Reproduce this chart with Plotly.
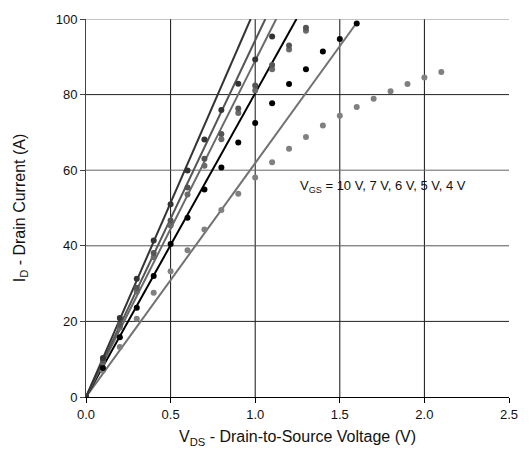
import plotly.graph_objects as go

# ---- data ----
vgs_labels = ["10 V", "7 V", "6 V", "5 V", "4 V"]
series_colors = ["#333333", "#555555", "#6a6a6a", "#000000", "#808080"]
line_colors = ["#333333", "#555555", "#6a6a6a", "#000000", "#727272"]

vds_10V = [0.0, 0.1, 0.2, 0.3, 0.4, 0.5, 0.6, 0.7, 0.8, 0.9, 1.0, 1.1]
id_10V = [0, 10.3, 20.9, 31.3, 41.4, 51.0, 59.9, 68.1, 75.9, 82.9, 89.3, 95.4]

vds_7V = [0.0, 0.1, 0.2, 0.3, 0.4, 0.5, 0.6, 0.7, 0.8, 0.9, 1.0, 1.1, 1.2, 1.3]
id_7V = [0, 9.6, 19.1, 28.9, 38.1, 46.7, 55.4, 63.0, 69.6, 76.3, 82.4, 87.8, 93.0, 97.7]

vds_6V = [0.0, 0.1, 0.2, 0.3, 0.4, 0.5, 0.6, 0.7, 0.8, 0.9, 1.0, 1.1, 1.2, 1.3]
id_6V = [0, 9.2, 18.4, 27.9, 37.0, 45.4, 53.6, 61.2, 68.2, 75.1, 81.1, 86.7, 91.9, 96.9]

vds_5V = [0.0, 0.1, 0.2, 0.3, 0.4, 0.5, 0.6, 0.7, 0.8, 0.9, 1.0, 1.1, 1.2, 1.3, 1.4, 1.5, 1.6]
id_5V = [0, 7.7, 15.8, 23.6, 32.0, 40.5, 47.4, 54.9, 60.7, 67.3, 72.5, 77.7, 82.8, 86.7, 91.4, 94.7, 98.8]

vds_4V = [0.0, 0.1, 0.2, 0.3, 0.4, 0.5, 0.6, 0.7, 0.8, 0.9, 1.0, 1.1, 1.2, 1.3, 1.4,
          1.5, 1.6, 1.7, 1.8, 1.9, 2.0, 2.1]
id_4V = [0, 7.0, 13.2, 20.7, 27.6, 33.3, 38.8, 44.3, 49.5, 53.8, 58.1, 62.1, 65.7, 68.8, 71.8,
         74.4, 76.7, 78.9, 80.9, 82.8, 84.5, 86.0]

# straight fit lines (start, end)
fit_x_10V = [0.0, 0.973]
fit_y_10V = [0, 100]
fit_x_7V = [0.0, 1.06]
fit_y_7V = [0, 100]
fit_x_6V = [0.0, 1.124]
fit_y_6V = [0, 100]
fit_x_5V = [0.0, 1.244]
fit_y_5V = [0, 100]
fit_x_4V = [0.0, 1.6]
fit_y_4V = [0, 99]

x_ticks = [0.0, 0.5, 1.0, 1.5, 2.0, 2.5]
x_tick_text = ["0.0", "0.5", "1.0", "1.5", "2.0", "2.5"]
y_ticks = [0, 20, 40, 60, 80, 100]
x_grid = [0.5, 1.0, 1.5, 2.0]
y_grid = [20, 40, 60, 80, 100]
y_grid_colors = ["#222222", "#555555", "#666666", "#222222", "#8a8a8a"]

dots = [(vds_4V, id_4V), (vds_5V, id_5V), (vds_6V, id_6V), (vds_7V, id_7V), (vds_10V, id_10V)]
fits = [(fit_x_4V, fit_y_4V), (fit_x_5V, fit_y_5V), (fit_x_6V, fit_y_6V),
        (fit_x_7V, fit_y_7V), (fit_x_10V, fit_y_10V)]
order = [4, 3, 2, 1, 0]

FONT = "Liberation Sans, Arial, Helvetica, sans-serif"

fig = go.Figure()
for k, idx in enumerate(order):
    fx, fy = fits[k]
    fig.add_trace(go.Scatter(x=fx, y=fy, mode="lines",
                             line=dict(color=line_colors[idx], width=2),
                             showlegend=False, hoverinfo="skip"))
for k, idx in enumerate(order):
    dx, dy = dots[k]
    fig.add_trace(go.Scatter(x=dx, y=dy, mode="markers",
                             marker=dict(color=series_colors[idx], size=6, line=dict(width=0)),
                             name=vgs_labels[idx], showlegend=False))

shapes = []
for gx in x_grid:
    shapes.append(dict(type="line", xref="x", yref="paper", x0=gx, x1=gx, y0=0, y1=1,
                       line=dict(color="#111111", width=1), layer="below"))
for gy, gc in zip(y_grid, y_grid_colors):
    shapes.append(dict(type="line", xref="paper", yref="y", x0=0, x1=1, y0=gy, y1=gy,
                       line=dict(color=gc, width=1), layer="below"))

fig.update_layout(
    width=530, height=458,
    margin=dict(l=86, r=14, t=12, b=61),
    paper_bgcolor="white", plot_bgcolor="white",
    font=dict(family=FONT, size=13, color="#111111"),
    shapes=shapes,
    showlegend=False,
    annotations=[dict(x=1.254, y=55.8, xref="x", yref="y", xanchor="left", yanchor="middle",
                      text="V<sub>GS</sub> = " + ", ".join(vgs_labels), showarrow=False,
                      font=dict(family=FONT, size=13, color="#111111"))],
)
fig.update_xaxes(range=[0, 2.5], tickvals=x_ticks, ticktext=x_tick_text,
                 showgrid=False, zeroline=False, showline=True, linecolor="#000000", linewidth=1,
                 ticks="outside", ticklen=5, tickcolor="#000000",
                 title=dict(text="V<sub>DS</sub> - Drain-to-Source Voltage (V)", standoff=10))
fig.update_yaxes(range=[0, 100], tickvals=y_ticks,
                 showgrid=False, zeroline=False, showline=True, linecolor="#444444", linewidth=1,
                 ticks="outside", ticklen=5, tickcolor="#444444",
                 title=dict(text="I<sub>D</sub> - Drain Current (A)", standoff=26))

fig.write_html("out.html")
